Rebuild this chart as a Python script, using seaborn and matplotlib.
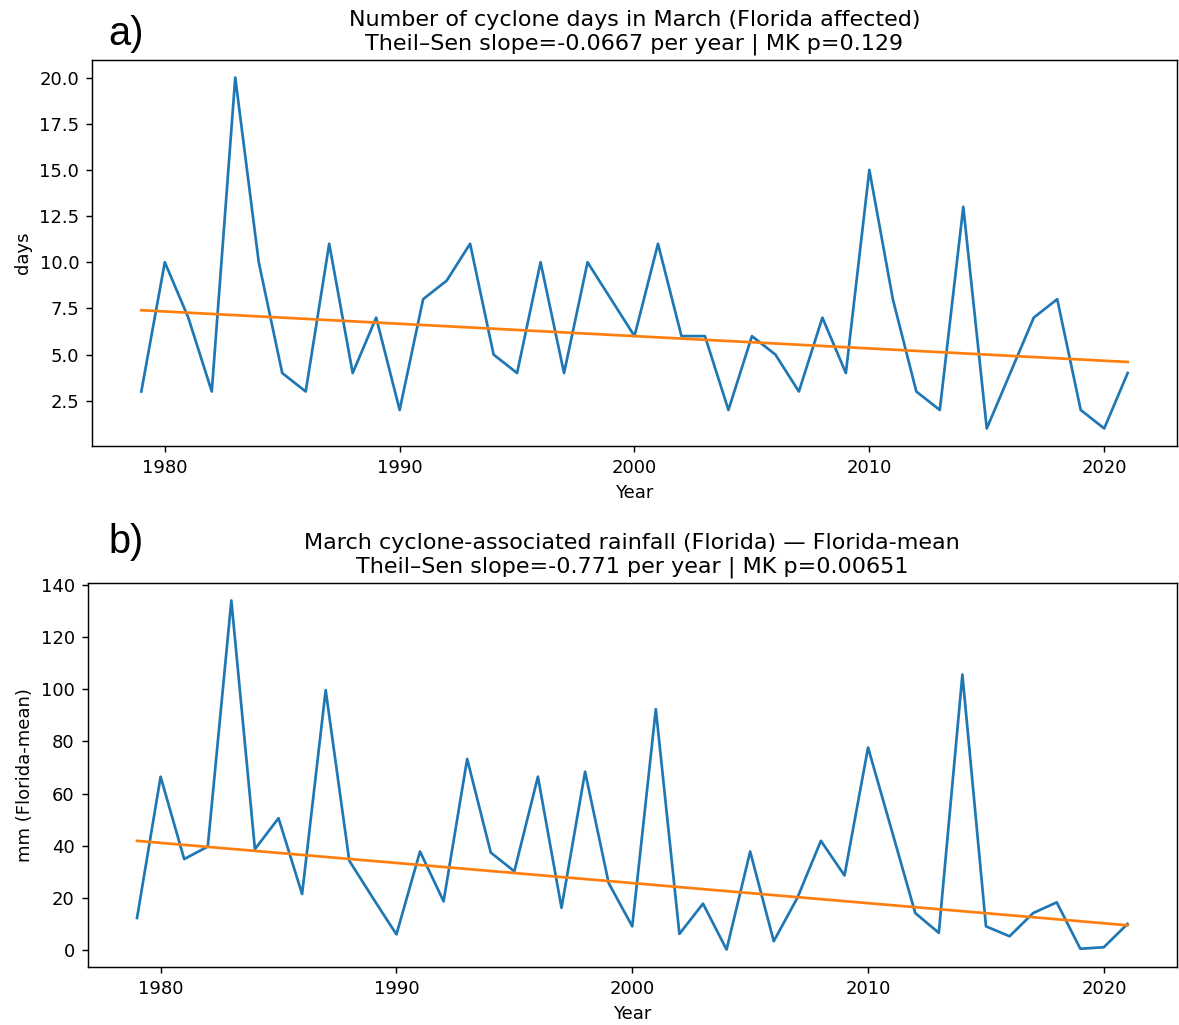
import numpy as np
import matplotlib
matplotlib.use("Agg")
import matplotlib.pyplot as plt
import seaborn as sns

# March cyclone statistics for Florida, 1979-2021
years = list(range(1979, 2022))

cyclone_days = [3, 10, 7, 3, 20, 10, 4, 3, 11, 4,
                7, 2, 8, 9, 11, 5, 4, 10, 4, 10,
                8, 6, 11, 6, 6, 2, 6, 5, 3, 7,
                4, 15, 8, 3, 2, 13, 1, 4, 7, 8,
                2, 1, 4]

rain_mm = [12.3, 66.5, 34.9, 39.7, 134.1, 38.7, 50.6, 21.5, 99.7, 34.3,
           20.0, 6.0, 37.8, 18.7, 73.3, 37.4, 30.2, 66.5, 16.2, 68.4,
           25.7, 9.1, 92.4, 6.2, 17.8, 0.2, 37.8, 3.4, 20.0, 41.9,
           28.6, 77.7, 46.0, 14.2, 6.6, 105.7, 9.1, 5.3, 14.2, 18.3,
           0.5, 1.1, 10.0]

# Theil-Sen slopes and Mann-Kendall p-values reported in the titles
days_slope, days_p = -0.0667, "0.129"
rain_slope, rain_p = -0.771, "0.00651"

panels = [
    dict(values=cyclone_days, slope=days_slope, p=days_p,
         title="Number of cyclone days in March (Florida affected)",
         ylabel="days", tag="a)",
         rect=[92 / 1179, 1 - 446 / 1025, (1177 - 92) / 1179, (446 - 60) / 1025],
         tag_y=1 - 34 / 1025),
    dict(values=rain_mm, slope=rain_slope, p=rain_p,
         title="March cyclone-associated rainfall (Florida) \u2014 Florida-mean",
         ylabel="mm (Florida-mean)", tag="b)",
         rect=[87.5 / 1179, 1 - 967 / 1025, (1177 - 87.5) / 1179, (967 - 583) / 1025],
         tag_y=1 - 542 / 1025),
]

blue = "#1f77b4"
orange = "#ff7f0e"

fig = plt.figure(figsize=(1179 / 130, 1025 / 130), dpi=130)
fig.patch.set_facecolor("white")

x = np.asarray(years, dtype=float)
for p in panels:
    ax = fig.add_axes(p["rect"])
    y = np.asarray(p["values"], dtype=float)
    # Theil-Sen intercept: median(y) - slope * median(x)
    intercept = np.median(y) - p["slope"] * np.median(x)
    trend = intercept + p["slope"] * x

    sns.lineplot(x=x, y=y, ax=ax, color=blue, linewidth=1.5)
    sns.lineplot(x=x, y=trend, ax=ax, color=orange, linewidth=1.5)

    slope_txt = f"{p['slope']:.3g}"
    ax.set_title(f"{p['title']}\nTheil\u2013Sen slope={slope_txt} per year | MK p={p['p']}",
                 fontsize=12.3)
    ax.set_xlabel("Year")
    ax.set_ylabel(p["ylabel"])
    ax.set_facecolor("white")
    for s in ax.spines.values():
        s.set_color("black")
        s.set_linewidth(0.8)

    fig.text(108 / 1179, p["tag_y"], p["tag"], fontsize=22,
             family=["Liberation Sans", "DejaVu Sans"], ha="left", va="center")

fig.savefig("out.png", dpi=130, facecolor="white")
